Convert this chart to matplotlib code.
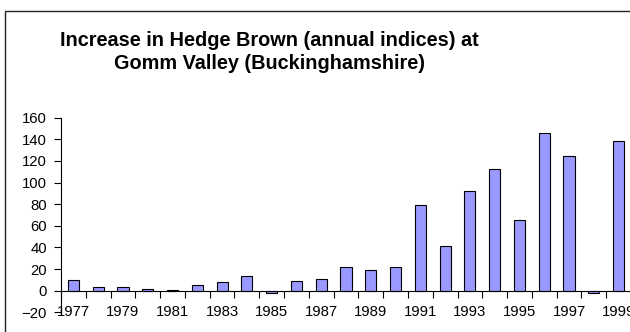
import matplotlib.pyplot as plt
import matplotlib.patches as patches
import numpy as np

plt.rcParams['font.family'] = ['Liberation Sans', 'DejaVu Sans']

years = list(range(1977, 2000))
indices = [10, 3, 3, 2, 1, 5, 8, 14, -2, 9, 11, 22, 19, 22,
           79, 41, 92, 113, 65, 146, 125, -2, 138]
year_labels = [str(y) if (y - 1977) % 2 == 0 else '' for y in years]

fig = plt.figure(figsize=(6.3, 3.32), dpi=100)

# outer chart border (runs off the right and bottom edges)
fig.patches.append(patches.Rectangle((5 / 630, -0.2), 1.2, 1.2 - 11 / 332,
                                     transform=fig.transFigure, fill=False,
                                     edgecolor='#222222', linewidth=1.0))

fig.text(0.427, 0.843, 'Increase in Hedge Brown (annual indices) at\nGomm Valley (Buckinghamshire)',
         ha='center', va='center', fontsize=14.3, fontweight='bold', linespacing=1.28)

ax = fig.add_axes([61 / 630, 0.0593, 570 / 630, 0.6455 - 0.0593])
x = np.arange(len(years))
ax.bar(x, indices, width=0.45, color='#9999ff', edgecolor='black', linewidth=0.8, zorder=2)

ax.set_xlim(-0.5, len(years) - 0.5)
ax.set_ylim(-20, 160)
ax.set_yticks(range(-20, 161, 20))
ax.tick_params(axis='y', direction='out', length=5, width=0.8, labelsize=10.7, pad=5)

# category axis crosses at zero, ticks between categories
ax.spines['bottom'].set_position(('data', 0))
ax.spines['top'].set_visible(False)
ax.spines['right'].set_visible(False)
ax.spines['left'].set_linewidth(0.8)
ax.spines['bottom'].set_linewidth(0.8)
ax.set_xticks(np.arange(len(years) + 1) - 0.5)
ax.set_xticklabels([])
ax.tick_params(axis='x', direction='out', length=5, width=0.8)

for xi, lab in zip(x, year_labels):
    if lab:
        ax.text(xi, -20, lab, ha='center', va='center', fontsize=10.7, clip_on=False)

fig.savefig('out.png', dpi=100)
